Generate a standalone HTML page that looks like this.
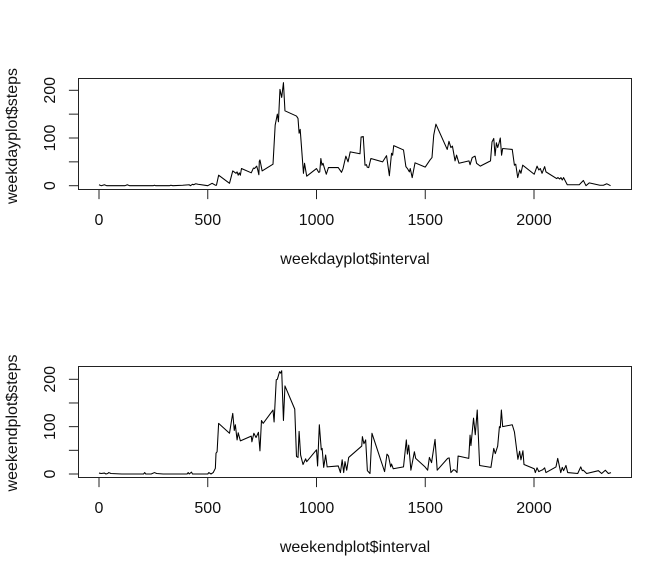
<!DOCTYPE html>
<html>
<head>
<meta charset="utf-8">
<title>Steps by interval</title>
<style>
html,body{margin:0;padding:0;background:#fff;}
svg{display:block;}
text{font-family:"Liberation Sans",Arial,sans-serif;font-size:16px;fill:#111;}
</style>
</head>
<body>
<svg id="chart" xmlns="http://www.w3.org/2000/svg" width="672" height="576" viewBox="0 0 672 576"></svg>
<script>
const weekdayIntervals = [
  0,10,25,35,65,120,130,140,250,255,
  260,325,330,340,385,415,420,430,435,445,
  455,500,520,535,540,550,600,615,630,635,
  640,645,650,655,700,710,715,725,730,735,
  737,740,750,800,810,820,825,832,840,848,
  855,908,915,920,925,940,945,955,1000,1010,
  1015,1020,1025,1030,1035,1045,1055,1100,1115,1122,
  1135,1145,1155,1200,1205,1215,1223,1230,1233,1240,
  1250,1304,1322,1335,1345,1350,1355,1400,1411,1418,
  1427,1431,1440,1453,1500,1522,1531,1539,1549,1601,
  1609,1618,1625,1637,1644,1655,1701,1706,1716,1729,
  1736,1753,1800,1807,1815,1821,1827,1833,1839,1845,
  1851,1856,1900,1910,1916,1925,1934,1940,1948,2001,
  2014,2022,2029,2037,2049,2055,2104,2110,2118,2124,
  2130,2136,2153,2208,2227,2239,2254,2303,2319,2335,
  2352
];
const weekdaySteps = [
  2,0,2,0,0,0,2,0,0,1,
  0,0,1,0,1,2,0,3,2,4,
  3,0,5,1,1,22,5,31,26,29,
  22,27,22,36,27,37,36,41,33,23,
  51,54,31,45,127,150,134,202,185,216,
  157,146,141,110,118,26,47,20,36,28,
  29,57,43,47,39,24,38,38,28,36,
  62,50,71,67,102,103,43,44,39,38,
  57,50,63,21,68,64,84,75,40,36,
  29,36,17,48,39,54,59,106,129,76,
  93,80,83,52,64,47,52,44,59,62,
  47,41,52,92,99,63,90,80,89,100,
  64,78,76,43,45,17,33,26,43,24,
  41,33,36,26,40,29,15,17,14,17,
  12,17,2,2,11,0,6,1,1,4,
  0
];
const weekendIntervals = [
  0,10,25,32,40,45,55,105,205,210,
  215,240,255,265,295,405,410,415,425,430,
  500,505,515,525,535,538,543,550,600,610,
  615,622,627,632,635,640,650,700,703,712,
  722,733,740,747,755,800,805,815,820,830,
  835,840,848,855,900,908,915,920,927,938,
  950,955,1000,1005,1013,1022,1026,1033,1042,1049,
  1100,1110,1118,1125,1131,1139,1148,1208,1211,1218,
  1226,1234,1246,1255,1313,1324,1331,1341,1345,1353,
  1400,1413,1418,1424,1434,1450,1456,1499,1511,1519,
  1529,1545,1555,1603,1610,1618,1630,1637,1646,1651,
  1700,1706,1710,1722,1730,1739,1750,1802,1815,1822,
  1833,1841,1845,1850,1856,1900,1910,1926,1934,1940,
  1949,1954,2001,2006,2014,2022,2030,2040,2049,2055,
  2101,2109,2123,2130,2136,2147,2155,2201,2215,2222,
  2227,2242,2296,2311,2328,2342,2354
];
const weekendSteps = [
  2,1,2,0,1,3,1,0,0,3,
  0,0,3,1,0,0,3,0,4,0,
  0,3,0,3,12,44,47,107,86,115,
  128,92,104,83,72,87,70,80,68,86,
  77,88,49,113,107,135,110,199,200,216,
  213,218,113,186,137,37,35,90,40,20,
  32,26,51,17,104,51,54,14,40,15,
  17,3,30,3,26,8,35,59,79,64,
  72,7,1,86,5,42,38,15,21,11,
  15,72,42,61,8,47,33,15,8,35,
  24,73,8,33,34,3,9,8,3,38,
  33,82,60,118,83,135,18,14,54,43,
  59,100,98,135,100,104,89,31,48,30,
  49,20,11,3,13,5,7,9,13,3,
  15,33,3,14,7,18,3,1,15,7,
  8,1,7,1,8,1,3
];
const xTicks = [0,500,1000,1500,2000];
const yTicks = [0,50,100,150,200];
const yTickLabels = [0,100,200];

const svg = document.getElementById('chart');
const NS = 'http://www.w3.org/2000/svg';
const INK = '#222';

function make(tag, attrs, parent) {
  const el = document.createElementNS(NS, tag);
  for (const k in attrs) el.setAttribute(k, attrs[k]);
  parent.appendChild(el);
  return el;
}

function drawPanel(prefix, intervals, steps, frameTop, frameBottom, zeroY, pxPerStep, yTitleCenter) {
  const frameLeft = 78.5, frameRight = 631.5;
  const xScale = v => 99 + v * 0.2175;
  const yScale = v => zeroY - v * pxPerStep;

  const g = make('g', {}, svg);
  
  

  const frame = make('rect', {x: frameLeft, y: frameTop, width: frameRight - frameLeft, height: frameBottom - frameTop, fill: 'none', stroke: INK, 'stroke-width': 1}, g);
  
  

  const pts = intervals.map((v, i) => xScale(v).toFixed(2) + ',' + yScale(steps[i]).toFixed(2)).join(' ');
  const line = make('polyline', {points: pts, fill: 'none', stroke: '#000', 'stroke-width': 1.05, 'stroke-linejoin': 'round'}, g);
  
  

  xTicks.forEach(v => {
    const x = xScale(v);
    const tick = make('line', {x1: x, x2: x, y1: frameBottom, y2: frameBottom + 9.6, stroke: INK, 'stroke-width': 1}, g);
    
    
    const label = make('text', {x: x, y: frameBottom + 35.5, 'text-anchor': 'middle'}, g);
    label.textContent = v;
    
    
  });

  yTicks.forEach(v => {
    const y = yScale(v);
    const tick = make('line', {x1: frameLeft, x2: frameLeft - 9.6, y1: y, y2: y, stroke: INK, 'stroke-width': 1}, g);
    
    
  });

  yTickLabels.forEach(v => {
    const y = yScale(v);
    const label = make('text', {transform: 'translate(55,' + y + ') rotate(-90)', 'text-anchor': 'middle'}, g);
    label.textContent = v;
    
    
  });

  const xTitle = make('text', {x: (frameLeft + frameRight) / 2, y: frameBottom + 74.5, 'text-anchor': 'middle'}, g);
  xTitle.textContent = prefix + 'plot$interval';
  
  

  const yTitle = make('text', {transform: 'translate(17,' + yTitleCenter + ') rotate(-90)', 'text-anchor': 'middle'}, g);
  yTitle.textContent = prefix + 'plot$steps';
  
  
}

drawPanel('weekday', weekdayIntervals, weekdaySteps, 78.5, 189.5, 185.7, 0.477, 136);
drawPanel('weekend', weekendIntervals, weekendSteps, 366.5, 477.5, 474, 0.4735, 423);
</script>
</body>
</html>
